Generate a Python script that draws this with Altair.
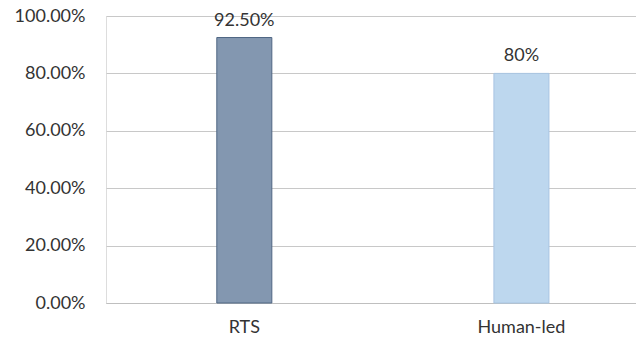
import altair as alt
import pandas as pd

# Share of cases per approach
groups = ["RTS", "Human-led"]
shares = [0.925, 0.80]
share_labels = ["92.50%", "80%"]
fills = ["#8397B0", "#BDD7EE"]
strokes = ["#4F6683", "#A8C5E2"]

df = pd.DataFrame({
    "group": groups,
    "share": shares,
    "label": share_labels,
    "fill": fills,
    "edge": strokes,
})

FONT = "Lato"
TEXT = "#333333"
SIZE = 18

x = alt.X(
    "group:N",
    sort=groups,
    scale=alt.Scale(paddingInner=0.8014, paddingOuter=0.357, align=0.56),
    axis=alt.Axis(
        title=None,
        labelAngle=0,
        ticks=False,
        domain=True,
        domainColor="#bfbfbf",
        domainWidth=1,
        labelFont=FONT,
        labelFontSize=SIZE,
        labelColor=TEXT,
        labelPadding=15,
    ),
)
y = alt.Y(
    "share:Q",
    scale=alt.Scale(domain=[0, 1], nice=False),
    axis=alt.Axis(
        title=None,
        format=".2%",
        values=[0, 0.2, 0.4, 0.6, 0.8, 1.0],
        ticks=False,
        domain=False,
        grid=True,
        gridColor="#c8c8c8",
        gridWidth=1,
        labelFont=FONT,
        labelFontSize=SIZE,
        labelColor=TEXT,
        labelPadding=21,
    ),
)

bars = alt.Chart(df).mark_bar(strokeWidth=1).encode(
    x=x,
    y=y,
    fill=alt.Fill("fill:N", scale=None),
    stroke=alt.Stroke("edge:N", scale=None),
)

labels = alt.Chart(df).mark_text(
    baseline="bottom", dy=-8, font=FONT, fontSize=SIZE, color=TEXT
).encode(
    x=alt.X("group:N", sort=groups),
    y="share:Q",
    text="label:N",
)

chart = (
    alt.layer(bars, labels)
    .properties(
        width=530,
        height=287,
        autosize=alt.AutoSizeParams(type="none"),
        padding={"left": 106, "top": 16, "right": 0, "bottom": 37},
    )
    .configure_view(stroke=None)
    .configure(background="white")
)

chart.save("out.html", embed_options={"renderer": "svg", "actions": False})
